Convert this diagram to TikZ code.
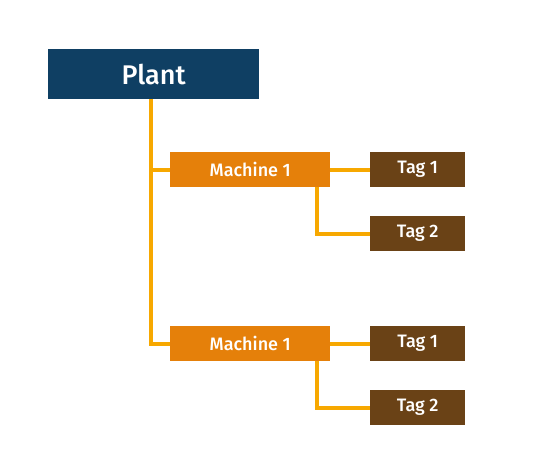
\documentclass[tikz,border=0pt]{standalone}
\usepackage{fontspec}
\setmainfont{Fira Sans Medium}
\definecolor{plantblue}{HTML}{0F3F63}
\definecolor{machorange}{HTML}{E5800A}
\definecolor{tagbrown}{HTML}{6A4216}
\definecolor{linkorange}{HTML}{F7A800}
\begin{document}
\begin{tikzpicture}[x=1pt,y=-1pt,
  box/.style={rectangle, inner sep=0pt, anchor=north west, text=white},
  plantbox/.style={box, fill=plantblue, minimum width=211pt, minimum height=50pt, font=\fontsize{27}{32}\selectfont},
  machbox/.style={box, fill=machorange, minimum width=160pt, minimum height=35pt, font=\fontsize{18}{21}\selectfont},
  tagbox/.style={box, fill=tagbrown, minimum width=95pt, minimum height=35pt, font=\fontsize{18}{21}\selectfont},
  link/.style={draw=linkorange, line width=4pt}]
\useasboundingbox (0,0) rectangle (533,463);
\node[plantbox] (plant) at (48,49) {Plant};
\node[machbox] (m1) at (170,152) {Machine 1};
\node[tagbox] (t11) at (370,152) {Tag 1};
\node[tagbox] (t12) at (370,216) {Tag 2};
\node[machbox] (m2) at (170,326) {Machine 1};
\node[tagbox] (t21) at (370,326) {Tag 1};
\node[tagbox] (t22) at (370,390) {Tag 2};
\draw[link] (plant.south -| 151,0) |- (m2.west);
\draw[link] (151,0 |- m1.west) -- (m1.west);
\draw[link] (m1.east) -- (t11.west);
\draw[link] (m1.south -| 317,0) |- (t12.west);
\draw[link] (m2.east) -- (t21.west);
\draw[link] (m2.south -| 317,0) |- (t22.west);
\end{tikzpicture}
\end{document}
